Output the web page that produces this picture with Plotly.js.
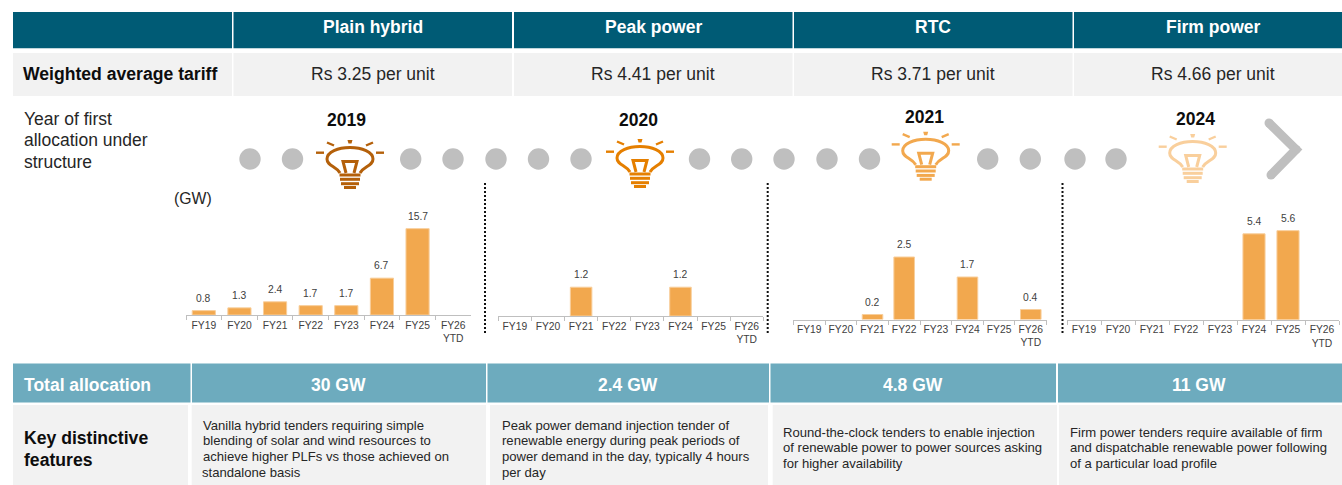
<!DOCTYPE html>
<html><head><meta charset="utf-8">
<script src="https://cdn.plot.ly/plotly-3.0.1.min.js"></script>
<style>html,body{margin:0;padding:0;background:#fff;overflow:hidden}#c{width:1342px;height:485px}</style>
</head><body><div id="c"></div>
<script>
// ---------- data ----------
var fiscalYears = ['FY19','FY20','FY21','FY22','FY23','FY24','FY25','FY26<br>YTD'];
var plainHybrid = [0.8,1.3,2.4,1.7,1.7,6.7,15.7,null];
var peakPower   = [null,null,1.2,null,null,1.2,null,null];
var rtc         = [null,null,0.2,2.5,null,1.7,null,0.4];
var firmPower   = [null,null,null,null,null,5.4,5.6,null];
var structures  = ['Plain hybrid','Peak power','RTC','Firm power'];
var tariffs     = ['Rs 3.25 per unit','Rs 4.41 per unit','Rs 3.71 per unit','Rs 4.66 per unit'];
var firstYears  = ['2019','2020','2021','2024'];
var totals      = ['30 GW','2.4 GW','4.8 GW','11 GW'];
var features    = [
 ['Vanilla hybrid tenders requiring simple','blending of solar and wind resources to','achieve higher PLFs vs those achieved on','standalone basis'],
 ['Peak power demand injection tender of','renewable energy during peak periods of','power demand in the day, typically 4 hours','per day'],
 ['Round-the-clock tenders to enable injection','of renewable power to power sources asking','for higher availability'],
 ['Firm power tenders require available of firm','and dispatchable renewable power following','of a particular load profile']];

// ---------- layout geometry (px) ----------
var W=1342,H=485,FONT='"Liberation Sans",Arial,sans-serif';
var fx=function(x){return x/W}, fy=function(y){return (H-y)/H};
var panels=[
 {v:plainHybrid,l:186,r:471,base:315,unit:5.5},
 {v:peakPower,l:498.3,r:763.3,base:316,unit:24},
 {v:rtc,l:793.4,r:1046.6,base:319.5,unit:25},
 {v:firmPower,l:1067,r:1339,base:319.7,unit:15.9}];
var shapes=[],annotations=[],traces=[],layout={};

function rect(x0,x1,y0,y1,c){shapes.push({type:'rect',xref:'paper',yref:'paper',x0:fx(x0),x1:fx(x1),y0:fy(y1),y1:fy(y0),fillcolor:c,line:{width:0},layer:'below'});}
function circ(cx,cy,r,c){shapes.push({type:'circle',xref:'paper',yref:'paper',x0:fx(cx-r),x1:fx(cx+r),y0:fy(cy+r),y1:fy(cy-r),fillcolor:c,line:{width:0}});}
function path(cmds,c,w,fill){
  var s=cmds.map(function(k){var o=k[0];for(var i=1;i<k.length;i+=2){o+=(i>1?' ':'')+fx(k[i]).toFixed(6)+','+fy(k[i+1]).toFixed(6);}return o;}).join(' ');
  shapes.push({type:'path',xref:'paper',yref:'paper',path:s,line:{color:c,width:w},fillcolor:fill||'rgba(0,0,0,0)'});
}
function text(t,x,y,size,color,bold,anchor){annotations.push({xref:'paper',yref:'paper',x:fx(x),y:fy(y),text:bold?'<b>'+t+'</b>':t,showarrow:false,xanchor:anchor||'center',yanchor:'middle',align:anchor==='left'?'left':'center',font:{family:FONT,size:size,color:color},borderpad:0,borderwidth:0});}
function lines(arr,x,y0,dy,size,color,bold){arr.forEach(function(t,i){text(t,x,y0+i*dy,size,color,bold,'left');});}

// ---------- table bands ----------
var NAVY='#005B75',GREY='#F2F2F2',TEAL='#6DABBE',INK='#262626';
var topCols=[[13,232],[233.5,512],[514,792.5],[794,1072.5],[1074,1342]];
topCols.forEach(function(c){rect(c[0],c[1],12,48.3,NAVY);rect(c[0],c[1],53,96,GREY);});
[[13,190.5],[192,486],[487.5,769],[770.5,1056],[1058,1342]].forEach(function(c){rect(c[0],c[1],363.5,402.5,TEAL);});
[[13,188],[191.7,486],[490,768],[772.7,1057],[1059,1342]].forEach(function(c){rect(c[0],c[1],405,485,GREY);});

var headerX=[372.5,653,933,1213];
structures.forEach(function(t,i){text(t,headerX[i],27,17.5,'#fff',true);});
text('Weighted average tariff',120,74,17.6,'#0d0d0d',true);
tariffs.forEach(function(t,i){text(t,headerX[i],73.5,17.5,INK,false);});
lines(['Year of first','allocation under','structure'],24,119,21.3,17.5,INK,false);
text('(GW)',193,198,15.8,INK,false);
text('Total allocation',23.5,384.5,17.5,'#fff',true,'left');
var totalX=[339,628,912.5,1199];
totals.forEach(function(t,i){text(t,totalX[i],384.5,17.5,'#fff',true);});
lines(['Key distinctive','features'],23.5,438,21.5,17.6,'#0d0d0d',true);
var featX=[202.5,501.5,783,1070],featY=[425,425,432,432];
features.forEach(function(t,i){lines(t,featX[i],featY[i],15.8,13.1,INK,false);});

// ---------- timeline ----------
[250,292.5,410.7,453,496,538.5,581,699.5,741.7,784,827,869.5,987.7,1030.3,1075,1116].forEach(function(x){circ(x,159,10.7,'#BFBFBF');});
function bulb(cx,t,c){
  var X=function(d){return cx+d},Y=function(d){return t+d},w=3;
  [[-34,-26,12.7,12.7],[26,34,12.7,12.7],[-23,-16,2.5,5.5],[23,16,2.5,5.5]].forEach(function(r){path([['M',X(r[0]),Y(r[2])],['L',X(r[1]),Y(r[3])]],c,2.4);});
  path([['M',X(-2.5),Y(0)],['L',X(2.5),Y(0)],['L',X(1.5),Y(3.5)],['L',X(-1.5),Y(3.5)],['Z']],c,0,c);
  path([['M',X(-10),Y(33)],['C',X(-14),Y(26),X(-23),Y(26),X(-23),Y(19)],['C',X(-23),Y(12),X(-12),Y(7.5),X(0),Y(7.5)],['C',X(12),Y(7.5),X(23),Y(12),X(23),Y(19)],['C',X(23),Y(26),X(14),Y(26),X(10),Y(33)]],c,w);
  path([['M',X(-4),Y(33)],['L',X(-7),Y(21.5)],['L',X(7),Y(21.5)],['L',X(4),Y(33)]],c,w);
  [[35,10.5],[39.3,10],[43.7,9],[47.5,6]].forEach(function(b){path([['M',X(-b[1]),Y(b[0])],['L',X(b[1]),Y(b[0])]],c,3);});
}
bulb(350,140,'#B4600A');bulb(640,139,'#E57F00');bulb(925.7,131.7,'#F2A84E');bulb(1192.7,134,'#F9CF9C');
var yearX=[346,638,924,1195],yearY=[120,120,117,119];
firstYears.forEach(function(t,i){text(t,yearX[i],yearY[i],17.5,'#0d0d0d',true);});
path([['M',1269,123],['L',1296,149.5],['L',1271,175]],'#BFBFBF',9);
circ(1269,123,4.5,'#BFBFBF');circ(1271,175,4.5,'#BFBFBF');circ(1296,149.5,4.5,'#BFBFBF');

// ---------- dotted separators ----------
[485,767.7,1062.5].forEach(function(x){shapes.push({type:'line',xref:'paper',yref:'paper',x0:fx(x),x1:fx(x),y0:fy(183),y1:fy(335),line:{color:'#111',width:2,dash:'2px,2px'}});});

// ---------- bar panels ----------
panels.forEach(function(p,i){
  var n=i?String(i+1):'',xa='xaxis'+n,ya='yaxis'+n,xr='x'+n,yr='y'+n,top=192;
  traces.push({type:'bar',x:fiscalYears,y:p.v,xaxis:xr,yaxis:yr,width:0.65,hoverinfo:'x+y',
    marker:{color:'#F2A84E',line:{color:'#F8CE9B',width:1}},showlegend:false});
  layout[xa]={domain:[fx(p.l),fx(p.r)],anchor:yr,type:'category',categoryorder:'array',categoryarray:fiscalYears,range:[-0.5,7.5],
    tickson:'boundaries',ticks:'outside',ticklen:4,tickwidth:1,tickcolor:'#BFBFBF',showline:true,linecolor:'#BFBFBF',linewidth:1.2,
    showgrid:false,zeroline:false,tickangle:0,automargin:false,fixedrange:true,tickfont:{family:FONT,size:10.3,color:'#404040'}};
  layout[ya]={domain:[fy(p.base),fy(top)],anchor:xr,range:[0,(p.base-top)/p.unit],visible:false,showgrid:false,zeroline:false,fixedrange:true};
  p.v.forEach(function(val,j){ if(val===null)return;
    annotations.push({xref:xr,yref:yr,x:fiscalYears[j],y:val,text:val.toFixed(1),showarrow:false,xanchor:'center',yanchor:'bottom',yshift:6,
      font:{family:FONT,size:10.3,color:'#404040'},borderpad:0});
  });
});

layout.width=W;layout.height=H;layout.margin={l:0,r:0,t:0,b:0,pad:0};layout.autosize=false;
layout.paper_bgcolor='#fff';layout.plot_bgcolor='rgba(0,0,0,0)';layout.showlegend=false;layout.bargap=0.35;
layout.shapes=shapes;layout.annotations=annotations;layout.font={family:FONT};
Plotly.newPlot('c',traces,layout,{displayModeBar:false,staticPlot:true});
</script></body></html>
